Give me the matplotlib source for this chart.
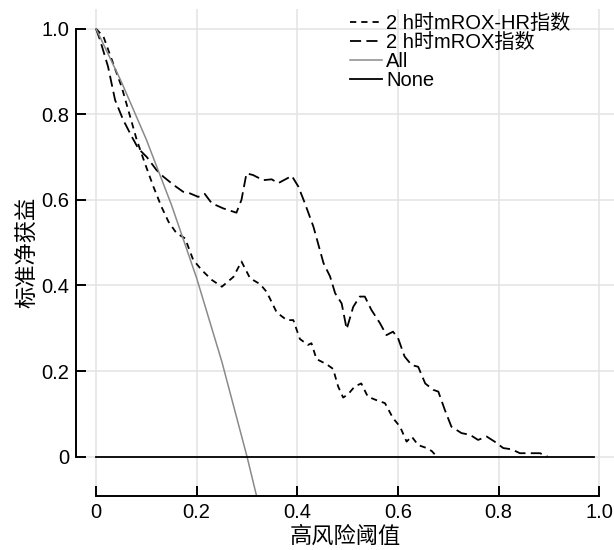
"""Decision curve: standardized net benefit vs high-risk threshold."""

import matplotlib

matplotlib.use("Agg")
import matplotlib.pyplot as plt

plt.rcParams["font.family"] = ["Liberation Sans", "Noto Sans CJK SC", "DejaVu Sans"]
plt.rcParams["lines.scale_dashes"] = False

# --- data ---
mrox_x = [0, 0.008, 0.024, 0.038, 0.054, 0.071, 0.084, 0.101, 0.12, 0.134, 0.154,
          0.173, 0.187, 0.203, 0.216, 0.23, 0.253, 0.279, 0.289, 0.299, 0.312,
          0.332, 0.349, 0.362, 0.389, 0.402, 0.415, 0.432, 0.452, 0.465, 0.475,
          0.488, 0.498, 0.511, 0.524, 0.534, 0.547, 0.564, 0.577, 0.59, 0.6,
          0.613, 0.627, 0.64, 0.654, 0.67, 0.68, 0.693, 0.706, 0.726, 0.743,
          0.759, 0.776, 0.792, 0.809, 0.826, 0.842, 0.862, 0.882, 0.897]
mrox_y = [1.0, 0.974, 0.911, 0.833, 0.787, 0.748, 0.72, 0.70, 0.67, 0.654, 0.635,
          0.619, 0.615, 0.607, 0.614, 0.592, 0.580, 0.570, 0.600, 0.662, 0.658,
          0.646, 0.648, 0.639, 0.656, 0.631, 0.592, 0.537, 0.452, 0.421, 0.382,
          0.358, 0.298, 0.350, 0.374, 0.374, 0.343, 0.312, 0.284, 0.292, 0.277,
          0.234, 0.214, 0.210, 0.171, 0.156, 0.152, 0.109, 0.070, 0.055, 0.051,
          0.039, 0.047, 0.035, 0.020, 0.017, 0.008, 0.008, 0.008, 0.0]

hr_x = [0, 0.015, 0.034, 0.051, 0.068, 0.081, 0.097, 0.114, 0.13, 0.144, 0.16,
        0.177, 0.193, 0.21, 0.23, 0.25, 0.273, 0.289, 0.306, 0.326, 0.339, 0.359,
        0.379, 0.392, 0.405, 0.421, 0.428, 0.438, 0.458, 0.471, 0.481, 0.491,
        0.501, 0.514, 0.527, 0.54, 0.557, 0.574, 0.59, 0.604, 0.617, 0.627,
        0.64, 0.657, 0.667, 0.677]
hr_y = [1.0, 0.981, 0.919, 0.864, 0.794, 0.74, 0.686, 0.631, 0.584, 0.549, 0.522,
        0.510, 0.460, 0.436, 0.413, 0.397, 0.420, 0.456, 0.417, 0.403, 0.385, 0.337,
        0.319, 0.319, 0.275, 0.261, 0.265, 0.228, 0.216, 0.205, 0.164, 0.138,
        0.146, 0.164, 0.171, 0.140, 0.132, 0.125, 0.090, 0.070, 0.035, 0.047,
        0.027, 0.020, 0.013, 0.0]

all_x = [0, 0.05, 0.1, 0.15, 0.2, 0.25, 0.3, 0.319]
all_y = [1.0, 0.877, 0.741, 0.588, 0.417, 0.222, 0.0, -0.092]

none_x = [0, 0.99]
none_y = [0, 0]

ticks = [0, 0.2, 0.4, 0.6, 0.8, 1.0]
tick_labels = ["0", "0.2", "0.4", "0.6", "0.8", "1.0"]

labels = ["2 h时mROX-HR指数", "2 h时mROX指数", "All", "None"]

# --- figure ---
fig = plt.figure(figsize=(6.14, 5.5), dpi=100)
ax = fig.add_axes([76 / 614, 54 / 550, 538 / 614, 487 / 550])

ax.plot(hr_x, hr_y, color="black", lw=1.3, dashes=(4.5, 3.6), label=labels[0])
ax.plot(mrox_x, mrox_y, color="black", lw=1.3, dashes=(8, 3.8), label=labels[1])
ax.plot(all_x, all_y, color="#8a8a8a", lw=1.1, label=labels[2])
ax.plot(none_x, none_y, color="black", lw=1.3, label=labels[3])

ax.set_xlim(-0.0397, 1.029)
ax.set_ylim(-0.092, 1.046)

ax.set_xticks(ticks)
ax.set_xticklabels(tick_labels)
ax.set_yticks(ticks)
ax.set_yticklabels(tick_labels)
ax.tick_params(direction="in", length=7, width=1.4, labelsize=14.5, pad=5)

for side in ("top", "right"):
    ax.spines[side].set_visible(False)
for side in ("left", "bottom"):
    ax.spines[side].set_linewidth(1.4)
    ax.spines[side].set_bounds(0, 1)

ax.grid(True, color="#e3e3e3", lw=1.1)
ax.set_axisbelow(True)

ax.set_xlabel("高风险阈值", fontsize=16, labelpad=3)
ax.set_ylabel("标准净获益", fontsize=16, labelpad=1)

ax.legend(loc="upper left", bbox_to_anchor=(0.509, 0.99), frameon=False,
          fontsize=14.5, handlelength=1.6, handletextpad=0.2,
          labelspacing=0.0, borderpad=0, borderaxespad=0)

fig.savefig("out.png", dpi=100)
